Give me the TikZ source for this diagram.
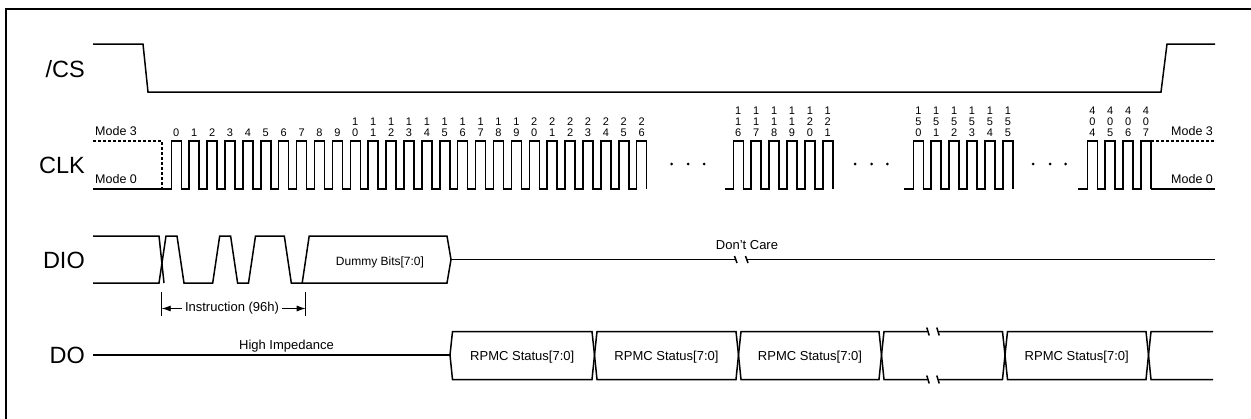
\documentclass[tikz,border=0pt]{standalone}
\usepackage{fontspec}
\setmainfont{Liberation Sans}
\usetikzlibrary{arrows.meta}

\tikzset{
  wave/.style={line width=1.5pt, line join=miter},
  signame/.style={font=\fontsize{23.5}{26}\selectfont, anchor=base east, inner sep=0pt},
  small/.style={font=\fontsize{13}{15}\selectfont, anchor=base, inner sep=0pt},
  bitno/.style={font=\fontsize{11}{11}\selectfont, align=center, anchor=south, inner sep=0pt},
  dimline/.style={line width=0.9pt, -{Latex[length=9pt,width=6pt]}},
  breaktick/.style={line width=1.5pt},
}

% clock burst: start of low line, first rising edge, number of pulses
\newcommand{\clkburst}[3]{%
  \draw[wave] (#1,189) \foreach \k in {1,...,#3} {
    -- ({#2+17.9*(\k-1)},189) -- ++(0,-48) -- ++(10,0) -- ++(0,48) };
}
% data box between two crossing points
\newcommand{\databox}[2]{%
  \draw[wave] (#1,355) -- ++(2.5,-23.5) -- ({#2-2.5},331.5) -- (#2,355)
    -- ({#2-2.5},379.5) -- ({#1+2.5},379.5) -- cycle;
}

\begin{document}
\begin{tikzpicture}[x=1pt,y=-1pt]
    \useasboundingbox (0,0) rectangle (1251,418);

    % frame
    \draw[line width=2.5pt] (6,430) -- (6,9) -- (1262,9);

    % signal names
    \node[signame] (cslbl) at (85,77.4) {/CS};
    \node[signame] (clklbl) at (85,173.4) {CLK};
    \node[signame] (diolbl) at (85,268.4) {DIO};
    \node[signame] (dolbl) at (85,363.9) {DO};

    % /CS
    \draw[wave] (93,44) -- (143,44) -- (148,92) -- (1161,92) -- (1167,44) -- (1215,44);

    % CLK
    \node[small, anchor=base west, font=\fontsize{12.5}{15}\selectfont] (m3l) at (95,135.5) {Mode 3};
    \node[small, anchor=base west, font=\fontsize{12.5}{15}\selectfont] (m0l) at (95,183.5) {Mode 0};
    \node[small, anchor=base west, font=\fontsize{12.5}{15}\selectfont] (m3r) at (1171,135.5) {Mode 3};
    \node[small, anchor=base west, font=\fontsize{12.5}{15}\selectfont] (m0r) at (1171,183.5) {Mode 0};
    \draw[wave, line width=1.3pt, dash pattern=on 3pt off 2pt] (93,141) -- (162,141) -- (162,189);
    \draw[wave, line width=1.3pt, dash pattern=on 3pt off 2pt] (1151,141) -- (1215,141);

    \clkburst{93}{171.3}{27}
    \clkburst{725}{733.3}{6}
    \clkburst{904}{913.3}{6}
    \clkburst{1078.3}{1087.3}{4}
    \draw[wave] (1151,189) -- (1215,189);

    \foreach \t [count=\i from 0] in {0,1,2,3,4,5,6,7,8,9,1\\0,1\\1,1\\2,1\\3,1\\4,1\\5,1\\6,1\\7,1\\8,1\\9,2\\0,2\\1,2\\2,2\\3,2\\4,2\\5,2\\6}
        \node[bitno] (a\i) at ({176.3+17.9*\i},137) {\t};
    \foreach \t [count=\i from 0] in {1\\1\\6,1\\1\\7,1\\1\\8,1\\1\\9,1\\2\\0,1\\2\\1}
        \node[bitno] (b\i) at ({738.3+17.9*\i},137) {\t};
    \foreach \t [count=\i from 0] in {1\\5\\0,1\\5\\1,1\\5\\2,1\\5\\3,1\\5\\4,1\\5\\5}
        \node[bitno] (c\i) at ({918.3+17.9*\i},137) {\t};
    \foreach \t [count=\i from 0] in {4\\0\\4,4\\0\\5,4\\0\\6,4\\0\\7}
        \node[bitno] (d\i) at ({1092.3+17.9*\i},137) {\t};

    \foreach \x in {671.7,688,704,855,871.7,887.3,1033,1050,1065.7}
        \fill (\x,164) circle (1.5pt);

    % DIO: instruction 96h, dummy bits, don't care
    \draw[wave] (93,236) -- (159,236) -- (164,283);
    \draw[wave] (93,283) -- (159,283) -- (166,236) -- (177,236) -- (184,283)
        -- (212.7,283) -- (219.7,236) -- (230.6,236) -- (237.6,283) -- (248.5,283)
        -- (255.5,236) -- (284.3,236) -- (291.3,283) -- (447,283) -- (451,259.5)
        -- (447,236) -- (309.2,236) -- (302.2,283);
    \node[small, font=\fontsize{12}{14}\selectfont] (dummy) at (380,265.3) {Dummy Bits[7:0]};

    \draw[wave] (451,259.5) -- (735.5,259.5);
    \draw[wave] (747,259.5) -- (1215,259.5);
    \draw[breaktick] (734.5,256) -- (737,263);
    \draw[breaktick] (745.5,256) -- (748,263);
    \node[small] (dontcare) at (747,249) {Don't Care};

    % instruction width
    \coordinate (insL) at (161.7,308.5);
    \coordinate (insR) at (305.7,308.5);
    \draw[line width=0.9pt] (161.7,292) -- (161.7,316);
    \draw[line width=0.9pt] (305.7,292) -- (305.7,316);
    \node[small, anchor=center, inner sep=2.5pt] (ins) at (232,308.5) {Instruction (96h)};
    \draw[dimline] (ins.west) -- (insL);
    \draw[dimline] (ins.east) -- (insR);

    % DO
    \draw[wave] (93,355) -- (450,355);
    \node[small] (hiz) at (286.5,349.5) {High Impedance};
    \databox{450}{594.5}
    \databox{594.5}{738.5}
    \databox{738.5}{881.5}
    \databox{1005}{1148.5}
    \foreach \a/\b [count=\i] in {450/594.5,594.5/738.5,738.5/881.5,1005/1148.5}
        \node[small] (st\i) at ({(\a+\b)/2},360) {RPMC Status[7:0]};

    % empty slot with break
    \draw[wave] (927.5,331.5) -- (884,331.5) -- (881.5,355) -- (884,379.5) -- (927.5,379.5);
    \draw[wave] (938.5,331.5) -- (1002.5,331.5) -- (1005,355) -- (1002.5,379.5) -- (938.5,379.5);
    \foreach \x in {928,938} {
        \draw[breaktick] (\x-1.2,327.5) -- (\x+1.2,335.5);
        \draw[breaktick] (\x-1.2,375.5) -- (\x+1.2,383.5);
    }

    % last slot, open to the right
    \draw[wave] (1213,331.5) -- (1151,331.5) -- (1148.5,355) -- (1151,379.5) -- (1213,379.5);
\end{tikzpicture}
\end{document}
